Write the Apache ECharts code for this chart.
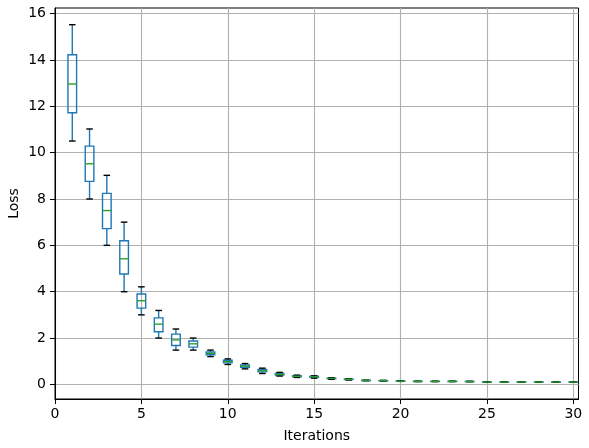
<!DOCTYPE html>
<html><head><meta charset="utf-8">
<script src="https://cdn.jsdelivr.net/npm/echarts@6/dist/echarts.min.js"></script>
<style>html,body{margin:0;padding:0;background:#fff}#c{width:589px;height:448px}</style>
</head><body><div id="c"></div>
<script>
const iterations = [1,2,3,4,5,6,7,8,9,10,11,12,13,14,15,16,17,18,19,20,21,22,23,24,25,26,27,28,29,30];
const whiskerLow = [10.5,8.0,6.0,4.0,3.0,2.0,1.48,1.48,1.2,0.86,0.67,0.47,0.36,0.30,0.27,0.22,0.19,0.155,0.145,0.13,0.12,0.12,0.12,0.115,0.09,0.09,0.09,0.09,0.09,0.09];
const q1 = [11.72,8.76,6.72,4.76,3.29,2.27,1.68,1.61,1.28,0.93,0.74,0.54,0.40,0.33,0.31,0.25,0.21,0.165,0.155,0.135,0.125,0.125,0.125,0.12,0.095,0.095,0.095,0.095,0.095,0.095];
const median = [12.96,9.52,7.5,5.42,3.61,2.6,1.92,1.75,1.34,0.98,0.79,0.59,0.43,0.35,0.33,0.26,0.22,0.17,0.16,0.14,0.13,0.13,0.13,0.125,0.10,0.10,0.10,0.10,0.10,0.10];
const q3 = [14.22,10.28,8.24,6.2,3.9,2.87,2.17,1.87,1.40,1.04,0.84,0.64,0.47,0.37,0.35,0.27,0.23,0.175,0.165,0.145,0.135,0.135,0.135,0.13,0.105,0.105,0.105,0.105,0.105,0.105];
const whiskerHigh = [15.52,11.02,9.02,7.0,4.21,3.19,2.39,2.0,1.48,1.1,0.9,0.7,0.52,0.40,0.37,0.29,0.24,0.185,0.175,0.15,0.14,0.14,0.14,0.135,0.11,0.11,0.11,0.11,0.11,0.11];
const xTicks = [0,5,10,15,20,25,30];
const yTicks = [0,2,4,6,8,10,12,14,16];
const xName = 'Iterations';
const yName = 'Loss';

const data = iterations.map((x,i)=>[x, whiskerLow[i], q1[i], median[i], q3[i], whiskerHigh[i]]);
const BLUE = '#1f77b4', GREEN = '#2ca02c', LW = 1.4;

function renderItem(params, api){
  const x = api.value(0);
  const lo = api.value(1), a = api.value(2), m = api.value(3), b = api.value(4), hi = api.value(5);
  const bh = 0.25, ch = 0.19;
  const c = (xx, yy) => api.coord([xx, yy]);
  const line = (p1, p2, color) => ({type:'line', shape:{x1:p1[0],y1:p1[1],x2:p2[0],y2:p2[1]}, style:{stroke:color, lineWidth:LW, fill:null}});
  const tl = c(x-bh, b), br = c(x+bh, a);
  return {type:'group', children:[
    line(c(x, a), c(x, lo), BLUE),
    line(c(x, b), c(x, hi), BLUE),
    {type:'rect', shape:{x:tl[0], y:tl[1], width:br[0]-tl[0], height:br[1]-tl[1]}, style:{stroke:BLUE, fill:null, lineWidth:LW}},
    line(c(x-ch, lo), c(x+ch, lo), '#000'),
    line(c(x-ch, hi), c(x+ch, hi), '#000'),
    line(c(x-bh, m), c(x+bh, m), GREEN)
  ]};
}

const font = 'DejaVu Sans';
const chart = echarts.init(document.getElementById('c'), null, {renderer:'canvas'});
chart.setOption({
  animation:false,
  backgroundColor:'#fff',
  grid:{left:55, right:10.5, top:8, bottom:49, outerBoundsMode:'none', containLabel:false, show:true, borderColor:'#000', borderWidth:1, backgroundColor:'transparent'},
  xAxis:{type:'value', min:0, max:30.3,
    name:xName, nameLocation:'middle', nameGap:30, nameMoveOverlap:false, nameTextStyle:{fontFamily:font, fontSize:14, color:'#000'},
    axisLine:{show:true, onZero:false, lineStyle:{color:'#000', width:1}},
    axisTick:{show:true, inside:false, length:5, customValues:xTicks, lineStyle:{color:'#000', width:1}},
    axisLabel:{customValues:xTicks, margin:8, fontFamily:font, fontSize:14, color:'#000'},
    splitLine:{show:true, lineStyle:{color:'#b0b0b0', width:1.1}}
  },
  yAxis:{type:'value', min:-0.63, max:16.24,
    name:yName, nameLocation:'middle', nameGap:34, nameMoveOverlap:false, nameTextStyle:{fontFamily:font, fontSize:14, color:'#000'},
    axisLine:{show:true, onZero:false, lineStyle:{color:'#000', width:1}},
    axisTick:{show:true, inside:false, length:5, customValues:yTicks, lineStyle:{color:'#000', width:1}},
    axisLabel:{customValues:yTicks, margin:9, fontFamily:font, fontSize:14, color:'#000'},
    splitLine:{show:true, lineStyle:{color:'#b0b0b0', width:1.1}}
  },
  series:[{type:'custom', renderItem:renderItem, data:data, encode:{x:0, y:[1,2,3,4,5]}, clip:true, z:3}]
});
</script></body></html>
